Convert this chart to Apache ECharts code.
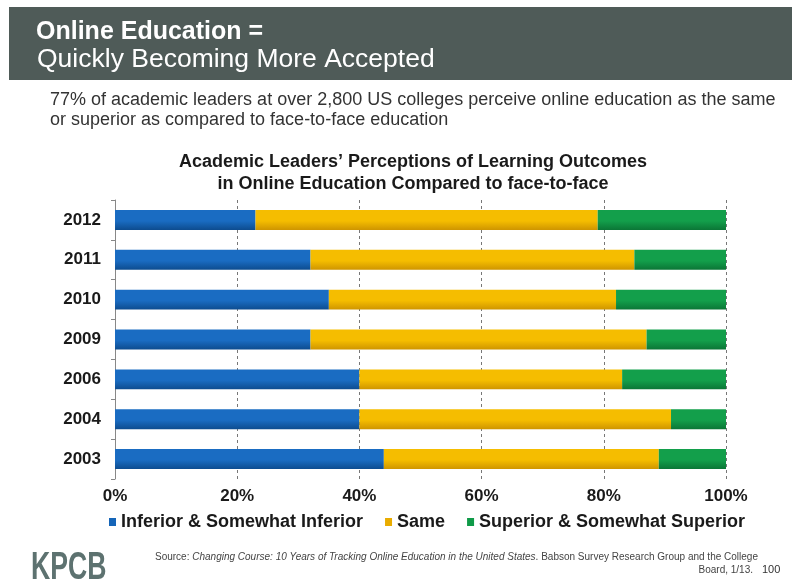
<!DOCTYPE html>
<html>
<head>
<meta charset="utf-8">
<script src="https://cdn.jsdelivr.net/npm/echarts@6/dist/echarts.min.js"></script>
<style>
  html, body { margin: 0; padding: 0; background: #fff; }
  #chart { width: 792px; height: 583px; }
</style>
</head>
<body>
<div id="chart"></div>
<script>
// Survey years, listed bottom-to-top on the category axis
const years = ['2003', '2004', '2006', '2009', '2010', '2011', '2012'];
// Share of academic leaders (%) per perception, by year
const inferior = [44, 40, 40, 32, 35, 32, 23];
const same     = [45, 51, 43, 55, 47, 53, 56];
const superior = [11, 9, 17, 13, 18, 15, 21];
const seriesNames = ['Inferior & Somewhat Inferior', 'Same', 'Superior & Somewhat Superior'];
const xTicks = [0, 20, 40, 60, 80, 100];

const FONT = "'Liberation Sans', Arial, Helvetica, sans-serif";

function grad(top, bottom) {
  return new echarts.graphic.LinearGradient(0, 0, 0, 1, [
    { offset: 0, color: top },
    { offset: 0.55, color: top },
    { offset: 1, color: bottom }
  ]);
}

const palette = [
  { solid: '#1565b8', fill: grad('#1a6cc2', '#0d4c8f') },
  { solid: '#e9ac00', fill: grad('#f5bd00', '#cf9500') },
  { solid: '#0f9a48', fill: grad('#139f4b', '#0b7636') }
];

const values = [inferior, same, superior];

const chart = echarts.init(document.getElementById('chart'), null, { renderer: 'canvas' });

chart.setOption({
  animation: false,
  backgroundColor: '#ffffff',
  title: {
    text: 'Academic Leaders\u2019 Perceptions of Learning Outcomes\nin Online Education Compared to face-to-face',
    left: 408,
    top: 146,
    textAlign: 'center',
    textStyle: {
      fontFamily: FONT,
      fontSize: 18,
      fontWeight: 'bold',
      color: '#1a1a1a',
      lineHeight: 22
    }
  },
  legend: {
    data: seriesNames.map((n, i) => ({ name: n, itemStyle: { color: palette[i].solid } })),
    left: 104,
    top: 508,
    icon: 'rect',
    itemWidth: 7,
    itemHeight: 8,
    itemGap: 22,
    textStyle: {
      fontFamily: FONT,
      fontSize: 18,
      fontWeight: 'bold',
      color: '#1a1a1a'
    }
  },
  grid: { left: 115, right: 66, top: 200, bottom: 104 },
  xAxis: {
    type: 'value',
    min: 0,
    max: 100,
    interval: 20,
    axisLine: { show: false },
    axisTick: { show: false },
    axisLabel: {
      formatter: v => xTicks.includes(v) ? v + '%' : '',
      fontFamily: FONT,
      fontSize: 17,
      fontWeight: 'bold',
      color: '#1a1a1a',
      margin: 9
    },
    splitLine: {
      show: true,
      lineStyle: { color: '#777', type: [3, 3], width: 1 }
    }
  },
  yAxis: {
    type: 'category',
    data: years,
    offset: 3,
    axisLine: { show: true, lineStyle: { color: '#888', width: 1 } },
    axisTick: { show: true, length: 4, lineStyle: { color: '#888' } },
    axisLabel: {
      fontFamily: FONT,
      fontSize: 17,
      fontWeight: 'bold',
      color: '#1a1a1a',
      margin: 11
    },
    splitLine: { show: false }
  },
  series: seriesNames.map((name, i) => ({
    name: name,
    type: 'bar',
    stack: 'total',
    barWidth: '50%',
    data: values[i],
    itemStyle: { color: palette[i].fill }
  })),
  graphic: [
    // header band
    {
      type: 'rect',
      left: 9, top: 7,
      shape: { width: 783, height: 73 },
      style: { fill: '#4f5b58' },
      silent: true
    },
    {
      type: 'text',
      left: 36, top: 20,
      style: {
        text: 'Online Education =',
        font: "bold 25px " + FONT,
        fill: '#ffffff'
      }
    },
    {
      type: 'text',
      left: 37, top: 46,
      style: {
        text: 'Quickly Becoming More Accepted',
        font: "26.5px " + FONT,
        fill: '#ffffff'
      }
    },
    {
      type: 'text',
      left: 50, top: 90,
      style: {
        text: '77% of academic leaders at over 2,800 US colleges perceive online education as the same\nor superior as compared to face-to-face education',
        font: "18px " + FONT,
        lineHeight: 20,
        fill: '#333333'
      }
    },
    // footer
    {
      type: 'text',
      x: 31, y: 550,
      scaleX: 0.7,
      style: {
        text: 'KPCB',
        font: "bold 38px " + FONT,
        fill: '#5d7270'
      }
    },
    {
      type: 'text',
      left: 155, top: 552,
      style: {
        text: '{n|Source: }{i|Changing Course: 10 Years of Tracking Online Education in the United States}{n|. Babson Survey Research Group and the College}',
        rich: {
          n: { font: "10px " + FONT, fill: '#444444' },
          i: { font: "italic 10px " + FONT, fill: '#444444' }
        }
      }
    },
    {
      type: 'text',
      right: 39, top: 565,
      style: {
        text: 'Board, 1/13.',
        font: "10px " + FONT,
        fill: '#444444'
      }
    },
    {
      type: 'text',
      left: 762, top: 564,
      style: {
        text: '100',
        font: "11px " + FONT,
        fill: '#333333'
      }
    }
  ]
});
</script>
</body>
</html>
